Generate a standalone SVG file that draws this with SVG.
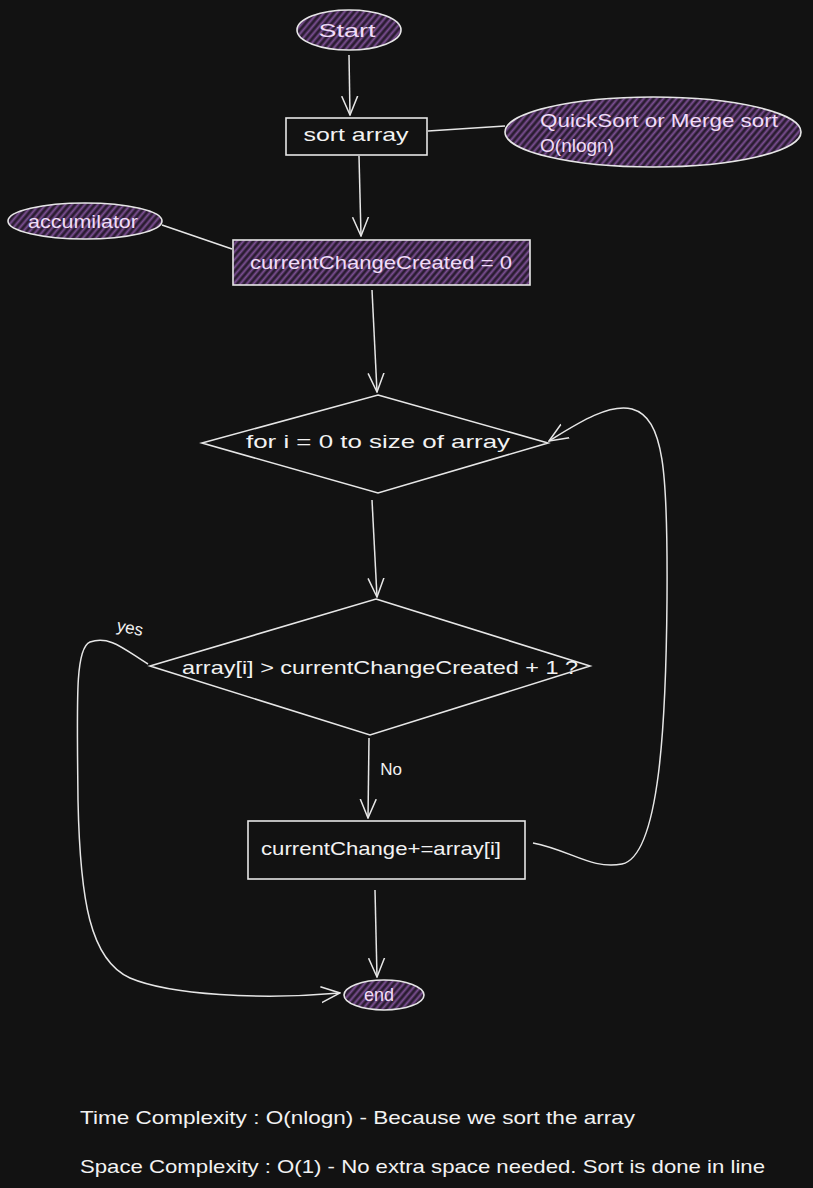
<svg xmlns="http://www.w3.org/2000/svg" width="813" height="1188" viewBox="0 0 813 1188">
<defs>
<pattern id="hatch" width="5" height="5" patternUnits="userSpaceOnUse" patternTransform="rotate(40)">
<rect width="5" height="5" fill="#2a1c31"/>
<line x1="1.5" y1="0" x2="1.5" y2="5" stroke="#7c4f93" stroke-width="2"/>
</pattern>
<marker id="arr" viewBox="0 0 20 20" refX="19" refY="10" markerWidth="20" markerHeight="20" markerUnits="userSpaceOnUse" orient="auto">
<path d="M0,2 L19,10 L0,18" fill="none" stroke="#e6e6e6" stroke-width="1.5"/>
</marker>
</defs>
<style>
.bg{fill:#121212}
.sh{stroke:#e6e6e6;stroke-width:1.6}
.plain{fill:#121212}
.purple{fill:url(#hatch)}
.c{fill:none;stroke:#e6e6e6;stroke-width:1.5}
.t{font-family:"Liberation Sans","Open Sans",sans-serif;font-size:19px;fill:#f2f2f2;text-anchor:middle;dominant-baseline:central}
.tp{fill:#f0dcf7}
.note{font-family:"Liberation Sans","Open Sans",sans-serif;font-size:19px;fill:#f2f2f2}
</style>
<rect class="bg" width="813" height="1188"/>

<g id="connectors">
<path class="c" d="M349,55 L350,115" marker-end="url(#arr)"/>
<path class="c" d="M428,131 L505,126"/>
<path class="c" d="M359,156 L361,236" marker-end="url(#arr)"/>
<path class="c" d="M162,225 L232,249"/>
<path class="c" d="M372,290 L377,392" marker-end="url(#arr)"/>
<path class="c" d="M372,500 L377,597" marker-end="url(#arr)"/>
<path class="c" d="M369,738 L368,818" marker-end="url(#arr)"/>
<path class="c" d="M533,843 C570,850 592,870 622,864 C660,856 666,720 667,600 C668,470 664,418 632,409 C608,403 575,425 549,441" marker-end="url(#arr)"/>
<path class="c" d="M375,890 L377,977" marker-end="url(#arr)"/>
<path class="c" d="M148,664 C125,650 110,635 90,642 C75,648 77,700 78,800 C80,900 90,960 130,978 C170,995 260,1000 340,993" marker-end="url(#arr)"/>
<text class="t" x="391" y="769" style="font-size:17px">No</text>
<text class="t" x="130" y="628" transform="rotate(12 130 628)" style="font-size:17px">yes</text>
</g>

<g id="start">
<ellipse class="sh purple" cx="349" cy="30" rx="52" ry="20"/>
<text class="t tp" x="347" y="30" textLength="57" lengthAdjust="spacingAndGlyphs">Start</text>
</g>

<g id="sort-array">
<rect class="sh plain" x="286" y="118" width="141" height="37"/>
<text class="t" x="356" y="134" textLength="105" lengthAdjust="spacingAndGlyphs">sort array</text>
</g>

<g id="sort-note">
<ellipse class="sh purple" cx="653" cy="132" rx="148" ry="35"/>
<text class="t tp" x="540" y="120" style="text-anchor:start" textLength="238" lengthAdjust="spacingAndGlyphs">QuickSort or Merge sort</text>
<text class="t tp" x="540" y="145" style="text-anchor:start" textLength="74" lengthAdjust="spacingAndGlyphs">O(nlogn)</text>
</g>

<g id="accumilator">
<ellipse class="sh purple" cx="85" cy="221" rx="77" ry="18"/>
<text class="t tp" x="83" y="221" textLength="110" lengthAdjust="spacingAndGlyphs">accumilator</text>
</g>

<g id="init">
<rect class="sh purple" x="233" y="240" width="297" height="45"/>
<text class="t tp" x="381" y="262" textLength="262" lengthAdjust="spacingAndGlyphs">currentChangeCreated = 0</text>
</g>

<g id="loop">
<polygon class="sh plain" points="378,395 548,443 378,493 202,443"/>
<text class="t" x="378" y="441" textLength="264" lengthAdjust="spacingAndGlyphs">for i = 0 to size of array</text>
</g>

<g id="check">
<polygon class="sh plain" points="376,599 590,666 370,735 150,666"/>
<text class="t" x="380" y="667" textLength="396" lengthAdjust="spacingAndGlyphs">array[i] &gt; currentChangeCreated + 1 ?</text>
</g>

<g id="accumulate">
<rect class="sh plain" x="248" y="821" width="277" height="58"/>
<text class="t" x="381" y="848" textLength="240" lengthAdjust="spacingAndGlyphs">currentChange+=array[i]</text>
</g>

<g id="end">
<ellipse class="sh purple" cx="384" cy="995" rx="40" ry="15"/>
<text class="t tp" x="379" y="994" textLength="30" lengthAdjust="spacingAndGlyphs">end</text>
</g>

<g id="notes">
<text class="note" x="80" y="1124" textLength="555" lengthAdjust="spacingAndGlyphs">Time Complexity : O(nlogn) - Because we sort the array</text>
<text class="note" x="80" y="1173" textLength="685" lengthAdjust="spacingAndGlyphs">Space Complexity : O(1) - No extra space needed. Sort is done in line</text>
</g>
</svg>
